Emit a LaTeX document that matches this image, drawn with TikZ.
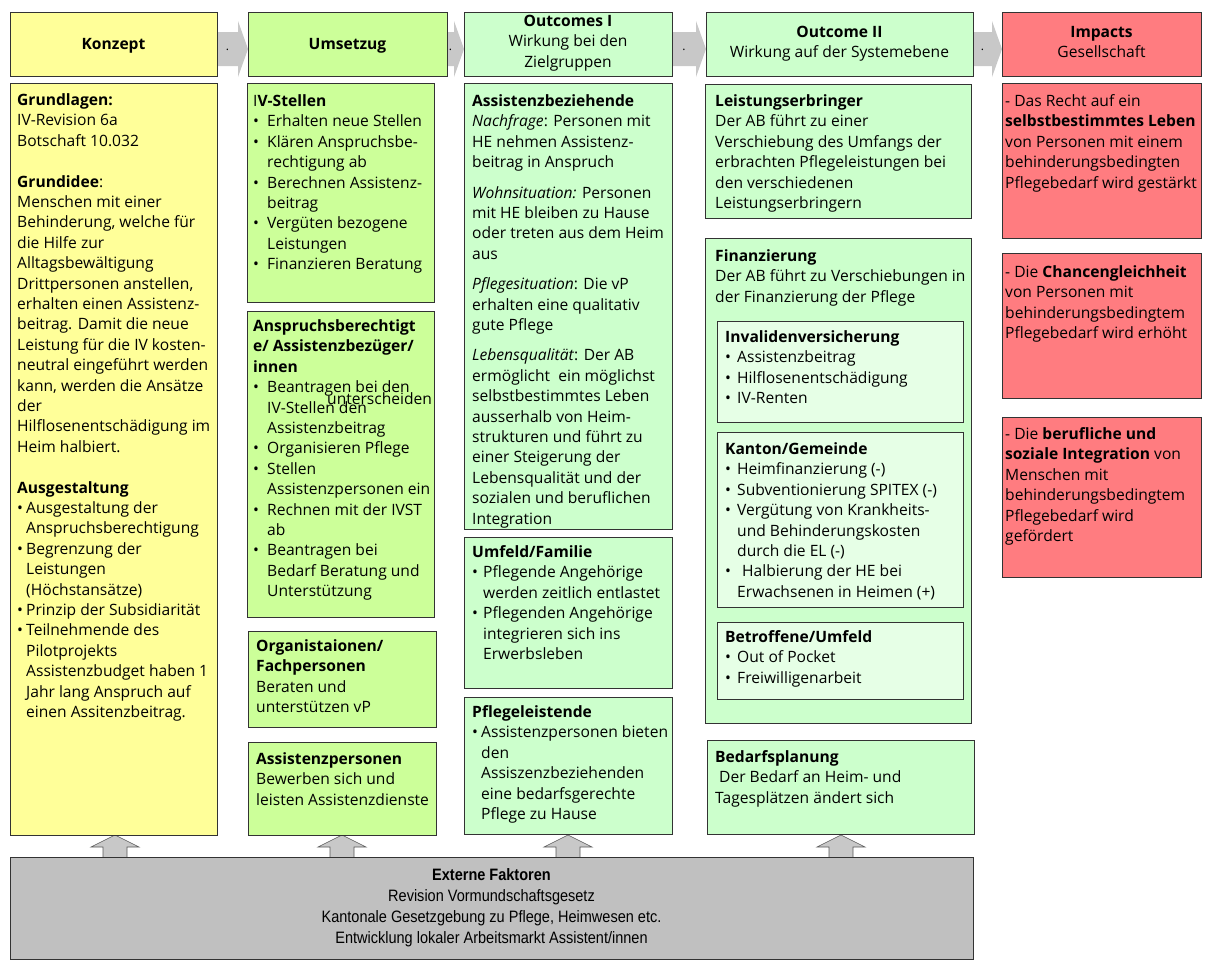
\documentclass[tikz,border=0pt]{standalone}
\usepackage{fontspec}
\setmainfont{Open Sans}
\newfontfamily\narrowfont[FakeStretch=0.88]{Liberation Sans}
\definecolor{cYellow}{HTML}{FFFF99}
\definecolor{cLime}{HTML}{CCFF99}
\definecolor{cMint}{HTML}{CCFFCC}
\definecolor{cMintL}{HTML}{E6FFE6}
\definecolor{cRed}{HTML}{FF7C80}
\definecolor{cArrow}{HTML}{C8C8C8}
\definecolor{cExt}{HTML}{C0C0C0}
\newcommand\bodyfont{\fontsize{15.6}{20.4}\selectfont}
\newcommand\bul[1]{\makebox[#1][l]{•}}
\newcommand\ind[1]{\hspace*{#1}}
\newcommand\mybox[6]{\node[box, fill=#2, minimum width={#5-#3}, minimum height={#6-#4}] (#1) at (#3,#4) {};}
\newcommand\rarr[3]{\fill[cArrow] (#1,32) -- (#2-10,32) -- (#2-10,21) -- (#2,49) -- (#2-10,77) -- (#2-10,66) -- (#1,66) -- cycle;
  \node[anchor=base, inner sep=0pt, font=\fontsize{12}{14}\selectfont] (#3) at ({(#1+#2-10)/2},50) {.};}
\newcommand\uarr[1]{\draw[uarrow] (#1-12,858) -- (#1-12,847) -- (#1-24,847) -- (#1,835) -- (#1+24,847) -- (#1+12,847) -- (#1+12,858) -- cycle;}
\begin{document}
\begin{tikzpicture}[x=1pt,y=-1pt,
  box/.style={draw=black!80, line width=0.7pt, anchor=north west, inner sep=0pt, outer sep=0pt},
  txt/.style={anchor=north west, inner sep=0pt, align=left, font=\bodyfont},
  hd/.style={anchor=north, inner sep=0pt, align=center, font=\bodyfont},
  uarrow/.style={fill=cArrow, draw=black!65, line width=0.6pt}]
\useasboundingbox (0,0) rectangle (1206,962);
\fill[white] (0,0) rectangle (1206,962);
% right arrows
\rarr{217}{248}{d1}
\rarr{447}{464}{d2}
\rarr{672}{706}{d3}
\rarr{973}{1002}{d4}
% header boxes
\mybox{h1}{cYellow}{10}{12}{217}{76}
\mybox{h2}{cLime}{248}{12}{447}{76}
\mybox{h3}{cMint}{464}{12}{672}{76}
\mybox{h4}{cMint}{706}{12}{973}{76}
\mybox{h5}{cRed}{1002}{12}{1201}{76}
\node[anchor=base, inner sep=0pt, font=\bodyfont] (th1) at (113.5,49) {\textbf{Konzept}};
\node[anchor=base, inner sep=0pt, font=\bodyfont] (th2) at (347.5,49) {\textbf{Umsetzug}};
\node[hd] (th3) at (568,12) {\strut\textbf{Outcomes I}\\Wirkung bei den\\Zielgruppen};
\node[hd] (th4) at (839.5,23) {\strut\textbf{Outcome II}\\Wirkung auf der Systemebene};
\node[hd] (th5) at (1101.5,23) {\strut\textbf{Impacts}\\Gesellschaft};
% up arrows
\uarr{115}
\uarr{342}
\uarr{568}
\uarr{841}
% column 1
\mybox{k1}{cYellow}{10}{83}{217}{835}
\node[txt] (tk1) at (17,91) {\strut\textbf{Grundlagen:}\\
IV-Revision 6a\\
Botschaft 10.032\\[20.4pt]
\textbf{Grundidee}:\\
Menschen mit einer\\
Behinderung, welche für\\
die Hilfe zur\\
Alltagsbewältigung\\
Drittpersonen anstellen,\\
erhalten einen Assistenz-\\
beitrag. Damit die neue\\
Leistung für die IV kosten-\\
neutral eingeführt werden\\
kann, werden die Ansätze\\
der\\
Hilflosenentschädigung im\\
Heim halbiert.\\[20.4pt]
\textbf{Ausgestaltung}\\
\bul{9pt}Ausgestaltung der\\
\ind{9pt}Anspruchsberechtigung\\
\bul{9pt}Begrenzung der\\
\ind{9pt}Leistungen\\
\ind{9pt}(Höchstansätze)\\
\bul{9pt}Prinzip der Subsidiarität\\
\bul{9pt}Teilnehmende des\\
\ind{9pt}Pilotprojekts\\
\ind{9pt}Assistenzbudget haben 1\\
\ind{9pt}Jahr lang Anspruch auf\\
\ind{9pt}einen Assitenzbeitrag.};
% column 2
\mybox{u1}{cLime}{247}{83}{434}{302}
\mybox{u2}{cLime}{247}{311}{434}{617}
\mybox{u3}{cLime}{248}{631}{436}{727}
\mybox{u4}{cLime}{248}{742}{436}{835}
\node[txt] (tu1) at (253,92) {\strut I\textbf{V-Stellen}\\
\bul{14pt}Erhalten neue Stellen\\
\bul{14pt}Klären Anspruchsbe-\\
\ind{14pt}rechtigung ab\\
\bul{14pt}Berechnen Assistenz-\\
\ind{14pt}beitrag\\
\bul{14pt}Vergüten bezogene\\
\ind{14pt}Leistungen\\
\bul{14pt}Finanzieren Beratung};
\node[txt] (tu2) at (253,317) {\strut\textbf{Anspruchsberechtigt}\\
\textbf{e/ Assistenzbezüger/}\\
\textbf{innen}\\
\bul{14pt}Beantragen bei den\\
\ind{14pt}IV-Stellen den\\
\ind{14pt}Assistenzbeitrag\\
\bul{14pt}Organisieren Pflege\\
\bul{14pt}Stellen\\
\ind{14pt}Assistenzpersonen ein\\
\bul{14pt}Rechnen mit der IVST\\
\ind{14pt}ab\\
\bul{14pt}Beantragen bei\\
\ind{14pt}Bedarf Beratung und\\
\ind{14pt}Unterstützung};
\node[anchor=base west, inner sep=0pt, font=\bodyfont] (tus) at (327,404) {unterscheiden};
\node[txt] (tu3) at (256,637) {\strut\textbf{Organistaionen/}\\
\textbf{Fachpersonen}\\
Beraten und\\
unterstützen vP};
\node[txt] (tu4) at (256,750) {\strut\textbf{Assistenzpersonen}\\
Bewerben sich und\\
leisten Assistenzdienste};
% column 3
\mybox{o1}{cMint}{464}{83}{672}{529}
\mybox{o2}{cMint}{464}{537}{672}{688}
\mybox{o3}{cMint}{464}{697}{672}{834}
\node[txt] (to1) at (472,92) {\strut\textbf{Assistenzbeziehende}\\
\textit{Nachfrage}: Personen mit\\
HE nehmen Assistenz-\\
beitrag in Anspruch\\[10pt]
\textit{Wohnsituation:} Personen\\
mit HE bleiben zu Hause\\
oder treten aus dem Heim\\
aus\\[10pt]
\textit{Pflegesituation}: Die vP\\
erhalten eine qualitativ\\
gute Pflege\\[10pt]
\textit{Lebensqualität}: Der AB\\
ermöglicht\ \ ein möglichst\\
selbstbestimmtes Leben\\
ausserhalb von Heim-\\
strukturen und führt zu\\
einer Steigerung der\\
Lebensqualität und der\\
sozialen und beruflichen\\
Integration};
\node[txt] (to2) at (472,543) {\strut\textbf{Umfeld/Familie}\\
\bul{11pt}Pflegende Angehörige\\
\ind{11pt}werden zeitlich entlastet\\
\bul{11pt}Pflegenden Angehörige\\
\ind{11pt}integrieren sich ins\\
\ind{11pt}Erwerbsleben};
\node[txt] (to3) at (472,703) {\strut\textbf{Pflegeleistende}\\
\bul{9pt}Assistenzpersonen bieten\\
\ind{9pt}den\\
\ind{9pt}Assiszenzbeziehenden\\
\ind{9pt}eine bedarfsgerechte\\
\ind{9pt}Pflege zu Hause};
% column 4
\mybox{s1}{cMint}{705}{84}{971}{218}
\mybox{s2}{cMint}{705}{238}{971}{723}
\mybox{s2a}{cMintL}{717}{321}{963}{422}
\mybox{s2b}{cMintL}{717}{432}{963}{607}
\mybox{s2c}{cMintL}{717}{622}{963}{699}
\mybox{s3}{cMint}{707}{740}{974}{834}
\node[txt] (ts1) at (715,92) {\strut\textbf{Leistungserbringer}\\
Der AB führt zu einer\\
Verschiebung des Umfangs der\\
erbrachten Pflegeleistungen bei\\
den verschiedenen\\
Leistungserbringern};
\node[txt] (ts2) at (715,247) {\strut\textbf{Finanzierung}\\
Der AB führt zu Verschiebungen in\\
der Finanzierung der Pflege};
\node[txt] (ts2a) at (725,328) {\strut\textbf{Invalidenversicherung}\\
\bul{12pt}Assistenzbeitrag\\
\bul{12pt}Hilflosenentschädigung\\
\bul{12pt}IV-Renten};
\node[txt] (ts2b) at (725,440) {\strut\textbf{Kanton/Gemeinde}\\
\bul{12pt}Heimfinanzierung (-)\\
\bul{12pt}Subventionierung SPITEX (-)\\
\bul{12pt}Vergütung von Krankheits-\\
\ind{12pt}und Behinderungskosten\\
\ind{12pt}durch die EL (-)\\
\bul{17pt}Halbierung der HE bei\\
\ind{12pt}Erwachsenen in Heimen (+)};
\node[txt] (ts2c) at (725,628) {\strut\textbf{Betroffene/Umfeld}\\
\bul{12pt}Out of Pocket\\
\bul{12pt}Freiwilligenarbeit};
\node[txt] (ts3) at (715,748) {\strut\textbf{Bedarfsplanung}\\
\ind{4pt}Der Bedarf an Heim- und\\
Tagesplätzen ändert sich};
% column 5
\mybox{i1}{cRed}{1002}{83}{1201}{238}
\mybox{i2}{cRed}{1002}{253}{1201}{398}
\mybox{i3}{cRed}{1002}{417}{1201}{577}
\node[txt] (ti1) at (1005,92) {\strut- Das Recht auf ein\\
\textbf{selbstbestimmtes Leben}\\
von Personen mit einem\\
behinderungsbedingten\\
Pflegebedarf wird gestärkt};
\node[txt] (ti2) at (1005,263) {\strut- Die \textbf{Chancengleichheit}\\
von Personen mit\\
behinderungsbedingtem\\
Pflegebedarf wird erhöht};
\node[txt] (ti3) at (1005,425) {\strut- Die \textbf{berufliche und}\\
\textbf{soziale Integration} von\\
Menschen mit\\
behinderungsbedingtem\\
Pflegebedarf wird\\
gefördert};
% external factors
\mybox{ext}{cExt}{10}{857}{973}{959}
\node[anchor=north, inner sep=0pt, align=center, font=\narrowfont\fontsize{16.5}{21}\selectfont] (text) at (491.5,866) {\strut\textbf{Externe Faktoren}\\
Revision Vormundschaftsgesetz\\
Kantonale Gesetzgebung zu Pflege, Heimwesen etc.\\
Entwicklung lokaler Arbeitsmarkt Assistent/innen};
\end{tikzpicture}
\end{document}
